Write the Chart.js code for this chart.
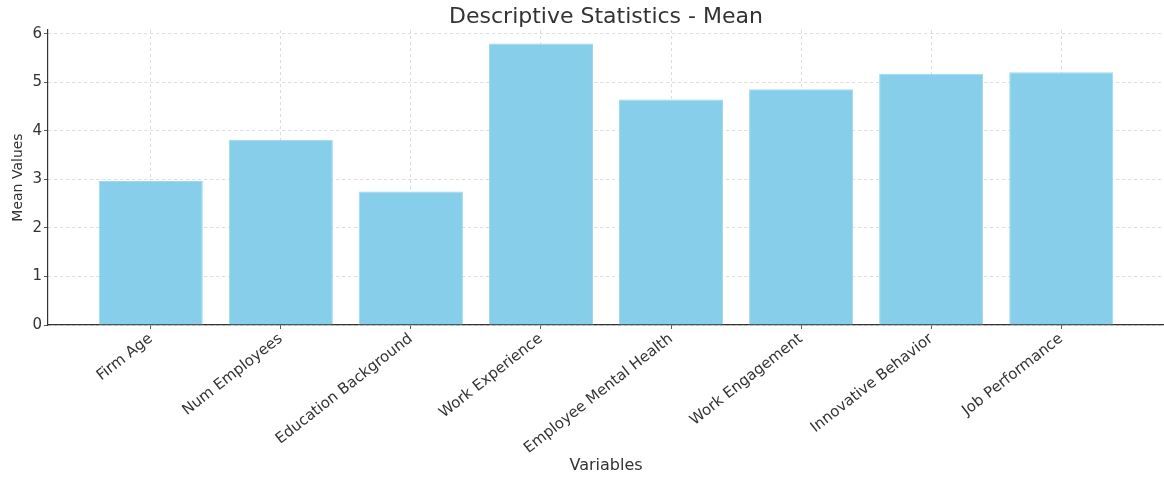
<!DOCTYPE html>
<html>
<head>
<meta charset="utf-8">
<script src="https://cdn.jsdelivr.net/npm/chart.js@4/dist/chart.umd.min.js"></script>
<style>
  html, body { margin: 0; padding: 0; background: #fff; }
  #chart { display: block; }
</style>
</head>
<body>
<canvas id="chart" width="1164" height="478"></canvas>
<script>
// ================== Data ==================
const categories = [
  "Firm Age", "Num Employees", "Education Background", "Work Experience",
  "Employee Mental Health", "Work Engagement", "Innovative Behavior", "Job Performance"
];
const meanValues = [2.97, 3.82, 2.75, 5.80, 4.65, 4.86, 5.18, 5.21];
const yTicks = [0, 1, 2, 3, 4, 5, 6];

const FONT = "'DejaVu Sans', sans-serif";
const gridStyle = {
  color: "#d4d4d4",
  lineWidth: 0.8,
  offset: false,
  tickColor: "#333",
  tickLength: 4,
  drawTicks: true,
};
const borderStyle = { display: true, color: "#333", width: 1.2, dash: [3, 3] };

// ================== Chart ==================
new Chart(document.getElementById("chart"), {
  type: "bar",
  data: {
    datasets: [{
      label: "Mean",
      data: meanValues.map((v, i) => ({ x: i, y: v })),
      backgroundColor: "#87CEEB",
      borderColor: "#9ed8ef",
      borderWidth: 1,
      barPercentage: 0.8,
      categoryPercentage: 1,
    }],
  },
  options: {
    responsive: false,
    animation: false,
    layout: { padding: 0 },
    plugins: {
      legend: { display: false },
      tooltip: { enabled: false },
      title: {
        display: true,
        fullSize: false, // centre over the plot area, like matplotlib
        text: "Descriptive Statistics - Mean",
        color: "#333",
        font: { family: FONT, size: 22, weight: "normal" },
        padding: { top: 3.6, bottom: 0 },
      },
    },
    scales: {
      x: {
        type: "linear",
        min: -0.79,
        max: 7.79,
        offset: false,
        afterBuildTicks: (axis) => {
          axis.ticks = categories.map((_, i) => ({ value: i }));
        },
        afterFit: (axis) => { axis.height = 153; },
        ticks: {
          autoSkip: false,
          maxRotation: 38,
          minRotation: 38,
          padding: 1,
          color: "#333",
          font: { family: FONT, size: 15 },
          callback: (v) => categories[v] ?? "",
        },
        grid: gridStyle,
        border: borderStyle,
        title: {
          display: true,
          text: "Variables",
          color: "#333",
          font: { family: FONT, size: 16 },
          padding: { top: 3, bottom: 3 },
        },
      },
      y: {
        min: 0,
        max: 6.08,
        afterBuildTicks: (axis) => {
          axis.ticks = yTicks.map((v) => ({ value: v }));
        },
        afterFit: (axis) => { axis.width = 48; },
        ticks: {
          padding: 2,
          color: "#333",
          font: { family: FONT, size: 15 },
        },
        grid: gridStyle,
        border: borderStyle,
        title: {
          display: true,
          text: "Mean Values",
          color: "#333",
          font: { family: FONT, size: 14 },
          padding: { top: 9.6, bottom: 9.6 },
        },
      },
    },
  },
});
</script>
</body>
</html>
